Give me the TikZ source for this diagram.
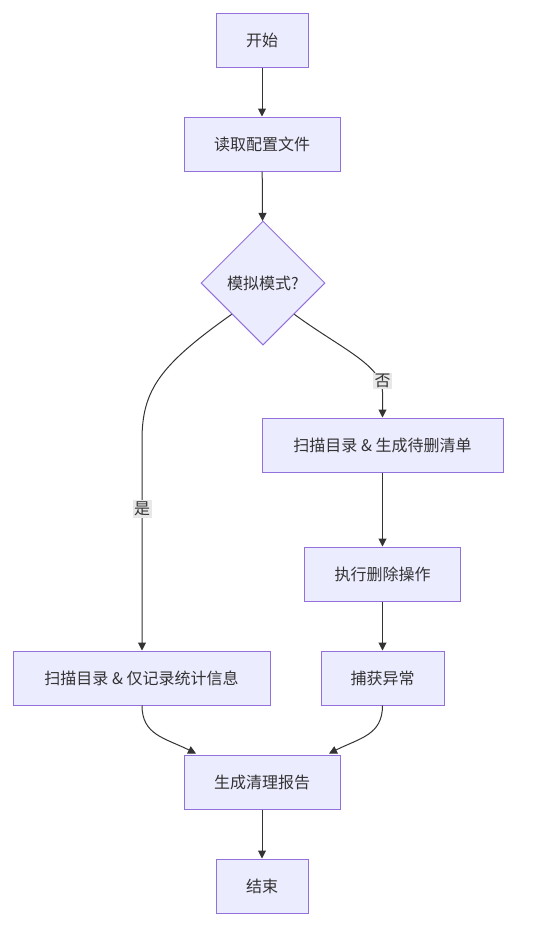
\documentclass[tikz,border=0pt]{standalone}
\usepackage{fontspec}
\newfontfamily\cjk{Noto Sans CJK SC}
\usetikzlibrary{shapes.geometric,arrows.meta}
\definecolor{nodefill}{HTML}{ECECFF}
\definecolor{nodeline}{HTML}{9370DB}
\definecolor{edgecol}{HTML}{333333}
\definecolor{lblfill}{HTML}{E8E8E8}
\tikzset{
  box/.style={draw=nodeline, fill=nodefill, line width=1pt, minimum height=54pt, inner sep=0pt,
    font=\cjk\fontsize{16}{19}\selectfont, text=edgecol},
  dec/.style={diamond, draw=nodeline, fill=nodefill, line width=1pt, minimum width=124pt, minimum height=124pt,
    inner sep=0pt, aspect=1, font=\cjk\fontsize{16}{19}\selectfont, text=edgecol},
  edge/.style={draw=edgecol, line width=1pt, -{Triangle[length=8pt,width=8pt]}},
  lbl/.style={fill=lblfill, inner sep=1.5pt, font=\cjk\fontsize{16}{19}\selectfont, text=edgecol}
}
\begin{document}
\begin{tikzpicture}[x=1pt,y=-1pt]
\path[use as bounding box, fill=white] (0,0) rectangle (558,927);
\node[box, minimum width=92pt] (start) at (262,40) {开始};
\node[box, minimum width=156pt] (read) at (262,144) {读取配置文件};
\node[dec] (sim) at (263,283) {模拟模式?};
\node[box, minimum width=241pt] (scan) at (382.5,445) {扫描目录 \& 生成待删清单};
\node[box, minimum width=156pt] (del) at (382.5,574) {执行删除操作};
\node[box, minimum width=257pt] (scanrec) at (141.5,678) {扫描目录 \& 仅记录统计信息};
\node[box, minimum width=123pt] (catch) at (382.5,678) {捕获异常};
\node[box, minimum width=156pt] (report) at (262,782) {生成清理报告};
\node[box, minimum width=92pt] (end) at (262,886) {结束};

\draw[edge] (start) -- (read);
\draw[edge] (read) -- (sim);
\draw[edge] (sim.south west) .. controls (160,365) and (142,390) .. (142,440) -- (scanrec.north -| 142,0);
\draw[edge] (sim.south east) .. controls (340,348) and (382.5,365) .. (382.5,392) -- (scan.north);
\draw[edge] (scan) -- (del);
\draw[edge] (del) -- (catch);
\draw[edge] (scanrec.south -| 142,0) .. controls (142,735) and (165,738) .. (196,753.5);
\draw[edge] (catch.south) .. controls (382.5,735) and (360,738) .. (329,753.5);
\draw[edge] (report) -- (end);

\node[lbl] (yes) at (142,509) {是};
\node[lbl] (no) at (382.5,381) {否};
\end{tikzpicture}
\end{document}
